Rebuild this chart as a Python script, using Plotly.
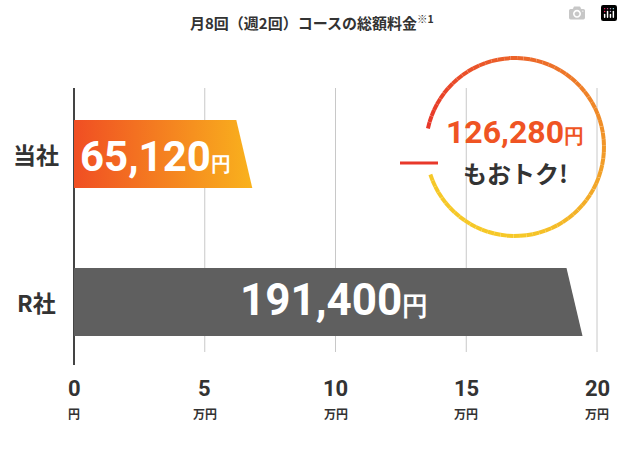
import numpy as np
import plotly.graph_objects as go

# data
companies = ['当社', 'R社']
totals = [65120, 191400]
total_labels = ['65,120', '191,400']
saving_label = '126,280'
tick_values = [0, 50000, 100000, 150000, 200000]
tick_numbers = ['0', '5', '10', '15', '20']
tick_units = ['円', '万円', '万円', '万円', '万円']
title = '月8回（週2回）コースの総額料金'

W, H = 623, 450
X0, X1 = 74, 597          # pixel span of the value axis
bar_centers = [154, 302]  # pixel rows of the bars
bar_half = 34
FONT = 'Noto Sans CJK JP'


def px(v):
    return X0 + v / 200000 * (X1 - X0)


fig = go.Figure()

# grid lines and zero line
for v in tick_values:
    fig.add_trace(go.Scatter(
        x=[px(v), px(v)], y=[88, 365 if v == 0 else 352], mode='lines',
        line=dict(color='#444' if v == 0 else '#c8c8c8', width=2 if v == 0 else 1),
        hoverinfo='skip', showlegend=False))

# bars with slanted end
fills = [dict(type='horizontal', colorscale=[[0, '#f04e23'], [1, '#f9b21d']]), None]
for i, (name, val) in enumerate(zip(companies, totals)):
    yc = bar_centers[i]
    end = px(val)
    xs = [X0, end - 8, end + 8, X0, X0]
    ys = [yc - bar_half, yc - bar_half, yc + bar_half, yc + bar_half, yc - bar_half]
    kw = dict(fillgradient=fills[i]) if fills[i] else dict(fillcolor='#5f5f5f')
    fig.add_trace(go.Scatter(x=xs, y=ys, fill='toself', mode='lines',
                             line=dict(width=0), hoverinfo='skip',
                             showlegend=False, **kw))
    fig.add_annotation(x=36, y=yc, text='<b>%s</b>' % name, showarrow=False,
                       font=dict(size=23, color='#333', family=FONT))

fig.add_annotation(x=(X0 + px(totals[0])) / 2 - 4, y=bar_centers[0] + 2,
                   text='<b>%s<span style="font-size:20px">円</span></b>' % total_labels[0],
                   showarrow=False, font=dict(size=42, color='white', family='Roboto'))
fig.add_annotation(x=(X0 + px(totals[1])) / 2 + 10, y=bar_centers[1] - 2,
                   text='<b>%s<span style="font-size:26px">円</span></b>' % total_labels[1],
                   showarrow=False, font=dict(size=44, color='white', family='Roboto'))

# tick labels
for v, n, u in zip(tick_values, tick_numbers, tick_units):
    fig.add_annotation(x=px(v), y=388, text='<b>%s</b>' % n, showarrow=False,
                       font=dict(size=22, color='#333', family='Roboto'))
    fig.add_annotation(x=px(v), y=413, text='<b>%s</b>' % u, showarrow=False,
                       font=dict(size=12, color='#333', family=FONT))

# savings circle with gradient ring: red just above the gap, clockwise to yellow
cx, cy, r = 515, 147, 89
angles = np.linspace(np.deg2rad(168), np.deg2rad(168 - 330), 80)
c0, c1 = np.array([232, 56, 42]), np.array([246, 200, 40])
for k in range(len(angles) - 1):
    t = k / (len(angles) - 2)
    col = c0 + (c1 - c0) * min(1, t * 1.3)
    a = angles[k:k + 2]
    fig.add_trace(go.Scatter(
        x=cx + r * np.cos(a), y=cy - r * np.sin(a), mode='lines',
        line=dict(color='rgb(%d,%d,%d)' % tuple(col), width=4),
        hoverinfo='skip', showlegend=False))
fig.add_trace(go.Scatter(x=[400, 438], y=[163, 163], mode='lines',
                         line=dict(color='#e8382a', width=3),
                         hoverinfo='skip', showlegend=False))
fig.add_annotation(x=cx, y=132,
                   text='<b>%s<span style="font-size:20px">円</span></b>' % saving_label,
                   showarrow=False, font=dict(size=32, color='#ef5423', family='Roboto'))
fig.add_annotation(x=cx, y=172, text='<b>もおトク!</b>', showarrow=False,
                   font=dict(size=24, color='#333', family=FONT))

fig.add_annotation(x=W / 2, y=22,
                   text='<b>%s<sup>※1</sup></b>' % title, showarrow=False,
                   font=dict(size=15, color='#333', family=FONT))

fig.update_layout(
    width=W, height=H, margin=dict(l=0, r=0, t=0, b=0),
    paper_bgcolor='white', plot_bgcolor='white',
    xaxis=dict(range=[0, W], visible=False, fixedrange=True),
    yaxis=dict(range=[H, 0], visible=False, fixedrange=True),
)

fig.write_html('out.html', post_script="document.body.style.margin='0';")
